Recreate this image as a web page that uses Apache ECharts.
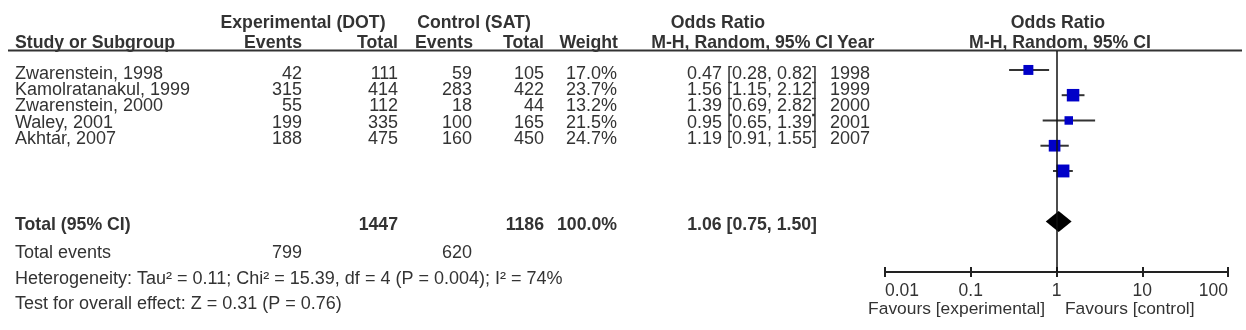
<!DOCTYPE html>
<html>
<head>
<meta charset="utf-8">
<script src="https://cdn.jsdelivr.net/npm/echarts@6/dist/echarts.min.js"></script>
<style>
html,body{margin:0;padding:0;background:#fff;}
#chart{width:1246px;height:330px;}
</style>
</head>
<body>
<div id="chart"></div>
<script>
// ---- data ----
const studies = ['Zwarenstein, 1998', 'Kamolratanakul, 1999', 'Zwarenstein, 2000', 'Waley, 2001', 'Akhtar, 2007'];
const expEvents = [42, 315, 55, 199, 188];
const expTotal = [111, 414, 112, 335, 475];
const ctlEvents = [59, 283, 18, 100, 160];
const ctlTotal = [105, 422, 44, 165, 450];
const weights = [17.0, 23.7, 13.2, 21.5, 24.7];
const orValues = [0.47, 1.56, 1.39, 0.95, 1.19];
const ciLower = [0.28, 1.15, 0.69, 0.65, 0.91];
const ciUpper = [0.82, 2.12, 2.82, 1.39, 1.55];
const years = [1998, 1999, 2000, 2001, 2007];
const pooledOR = [1.06, 0.75, 1.50];           // estimate, lower, upper
const totalParticipants = [1447, 1186];         // experimental, control
const totalEvents = [799, 620];                 // experimental, control
const totalWeight = 100.0;
const xTickLabels = ['0.01', '0.1', '1', '10', '100'];
const heterogeneityText = 'Heterogeneity: Tau\u00b2 = 0.11; Chi\u00b2 = 15.39, df = 4 (P = 0.004); I\u00b2 = 74%';
const overallText = 'Test for overall effect: Z = 0.31 (P = 0.76)';
const favoursLabels = ['Favours [experimental]', 'Favours [control]'];

// ---- layout / style ----
const FF = '"Liberation Sans", Arial, sans-serif';
const FS = 18;
const FSB = 17.7;
const TXT = '#333333';
const fontN = FS + 'px ' + FF;
const fontB = 'bold ' + FSB + 'px ' + FF;
const fontS = '17.4px ' + FF;
const GRID = { left: 885, right: 18, top: 51, bottom: 58 };
const gridH = 330 - GRID.top - GRID.bottom;

function t(text, x, y, align, bold, font) {
  return {
    type: 'text', x: x, y: y, silent: true,
    style: { text: String(text), fill: TXT, font: font || (bold ? fontB : fontN),
             textAlign: align, textVerticalAlign: 'middle' }
  };
}
const fmtOR = (a, b, c) => a.toFixed(2) + ' [' + b.toFixed(2) + ', ' + c.toFixed(2) + ']';

const g = [];
// header
g.push(t('Experimental (DOT)', 303, 22.7, 'center', true));
g.push(t('Control (SAT)', 474, 22.7, 'center', true));
g.push(t('Odds Ratio', 718, 22.7, 'center', true));
g.push(t('Odds Ratio', 1058, 22.7, 'center', true));
g.push(t('Study or Subgroup', 15, 43, 'left', true));
g.push(t('Events', 302, 43, 'right', true));
g.push(t('Total', 398, 43, 'right', true));
g.push(t('Events', 473, 43, 'right', true));
g.push(t('Total', 544, 43, 'right', true));
g.push(t('Weight', 618, 43, 'right', true));
g.push(t('M-H, Random, 95% CI', 833, 43, 'right', true));
g.push(t('Year', 837, 43, 'left', true));
g.push(t('M-H, Random, 95% CI', 1060, 43, 'center', true));
g.push({ type: 'line', silent: true, shape: { x1: 8, y1: 50.5, x2: 1242, y2: 50.5 },
         style: { stroke: '#333', lineWidth: 2 } });

// study rows
studies.forEach((s, i) => {
  const y = 73.6 + i * 16.4;
  g.push(t(s, 15, y, 'left'));
  g.push(t(expEvents[i], 302, y, 'right'));
  g.push(t(expTotal[i], 398, y, 'right'));
  g.push(t(ctlEvents[i], 472, y, 'right'));
  g.push(t(ctlTotal[i], 544, y, 'right'));
  g.push(t(weights[i].toFixed(1) + '%', 617, y, 'right'));
  g.push(t(fmtOR(orValues[i], ciLower[i], ciUpper[i]), 817, y, 'right'));
  g.push(t(years[i], 870, y, 'right'));
});

// totals
g.push(t('Total (95% CI)', 15, 225, 'left', true));
g.push(t(totalParticipants[0], 398, 225, 'right', true));
g.push(t(totalParticipants[1], 544, 225, 'right', true));
g.push(t(totalWeight.toFixed(1) + '%', 617, 225, 'right', true));
g.push(t(fmtOR(pooledOR[0], pooledOR[1], pooledOR[2]), 817, 225, 'right', true));
g.push(t('Total events', 15, 253, 'left'));
g.push(t(totalEvents[0], 302, 253, 'right'));
g.push(t(totalEvents[1], 472, 253, 'right'));
g.push(t(heterogeneityText, 15, 279, 'left'));
g.push(t(overallText, 15, 304, 'left'));
g.push(t(favoursLabels[0], 1045, 309, 'right', false, fontS));
g.push(t(favoursLabels[1], 1065, 309, 'left', false, fontS));

// ---- forest data ----
const studyData = studies.map((s, i) => [orValues[i], ciLower[i], ciUpper[i], i, weights[i]]);
const pooledRow = studies.length + 1;
const pooledData = [[pooledOR[0], pooledOR[1], pooledOR[2], pooledRow]];

const chart = echarts.init(document.getElementById('chart'), null, { renderer: 'canvas' });
const xCommon = { type: 'log', logBase: 10, min: 0.01, max: 100, gridIndex: 0, splitLine: { show: false } };
chart.setOption({
  animation: false,
  backgroundColor: '#fff',
  graphic: g,
  grid: Object.assign({ containLabel: false }, GRID),
  xAxis: [
    Object.assign({}, xCommon, {
      position: 'bottom',
      axisLine: { show: true, onZero: false, lineStyle: { color: '#222', width: 2 } },
      axisTick: { show: true, inside: false, length: 5, lineStyle: { color: '#222', width: 2 } },
      axisLabel: {
        show: true, margin: 10, color: TXT, fontSize: 17.5, fontFamily: FF,
        alignMinLabel: 'left', alignMaxLabel: 'right',
        formatter: (v) => xTickLabels[Math.round(Math.log10(v)) + 2]
      }
    }),
    // same scale, moved onto the bottom line, ticks pointing upward
    Object.assign({}, xCommon, {
      position: 'top', offset: -gridH,
      axisLine: { show: false, onZero: false },
      axisTick: { show: true, inside: false, length: 5, lineStyle: { color: '#222', width: 2 } },
      axisLabel: { show: false }
    })
  ],
  yAxis: { type: 'value', min: -0.75, max: 8, inverse: true, show: false },
  series: [
    {
      type: 'scatter', data: [], silent: true,
      markLine: {
        silent: true, symbol: 'none', label: { show: false },
        lineStyle: { color: '#111', width: 1.5, type: 'solid' },
        data: [{ xAxis: 1 }]
      }
    },
    {
      type: 'custom', data: studyData, silent: true,
      encode: { x: [0, 1, 2], y: 3 },
      renderItem: function (params, api) {
        const r = api.value(3);
        const c = api.coord([api.value(0), r]);
        const lo = api.coord([api.value(1), r]);
        const hi = api.coord([api.value(2), r]);
        const sz = 3.5 + 0.38 * api.value(4);
        return {
          type: 'group',
          children: [
            { type: 'line', shape: { x1: lo[0], y1: c[1], x2: hi[0], y2: c[1] },
              style: { stroke: '#333', lineWidth: 2 } },
            { type: 'rect', shape: { x: c[0] - sz / 2, y: c[1] - sz / 2, width: sz, height: sz },
              style: { fill: '#0000c8' } }
          ]
        };
      }
    },
    {
      type: 'custom', data: pooledData, silent: true,
      encode: { x: [0, 1, 2], y: 3 },
      renderItem: function (params, api) {
        const r = api.value(3);
        const c = api.coord([api.value(0), r]);
        const lo = api.coord([api.value(1), r]);
        const hi = api.coord([api.value(2), r]);
        const h = 10.5;
        return {
          type: 'polygon',
          shape: { points: [[lo[0], c[1]], [c[0], c[1] - h], [hi[0], c[1]], [c[0], c[1] + h]] },
          style: { fill: '#000' }
        };
      }
    }
  ]
});
</script>
</body>
</html>
